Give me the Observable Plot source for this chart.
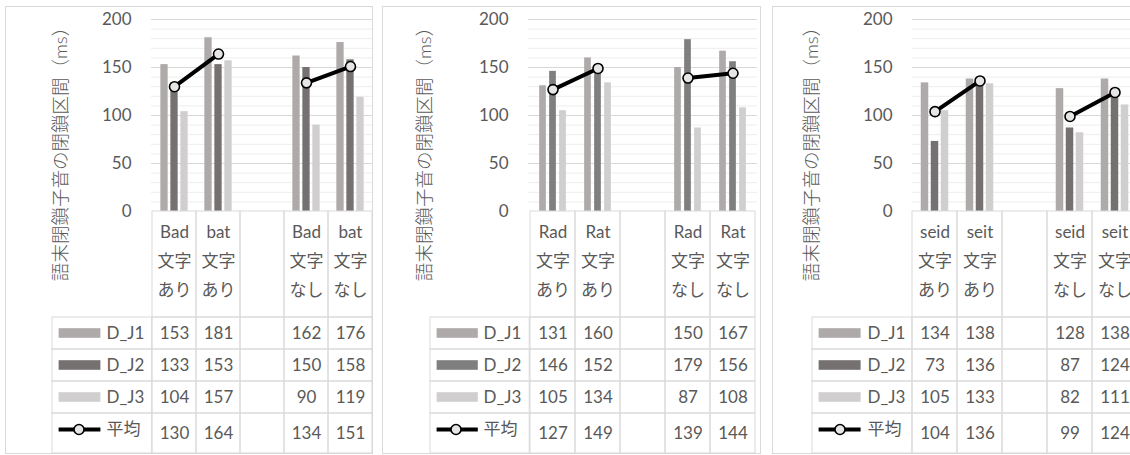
<!DOCTYPE html>
<html><head><meta charset="utf-8">
<script src="https://cdn.jsdelivr.net/npm/d3@7"></script>
<script src="https://cdn.jsdelivr.net/npm/@observablehq/plot@0.6"></script>
<style>
html,body{margin:0;padding:0;background:#fff;width:1130px;height:455px;overflow:hidden;}
.panel{position:absolute;box-sizing:border-box;border:1px solid #d9d9d9;background:#fff;overflow:visible;}
.panel svg{position:absolute;left:0;}
</style></head><body>
<script>
// ---------- data ----------
const seriesNames = ["D_J1", "D_J2", "D_J3", "平均"];
const yTitle = "語末閉鎖子音の閉鎖区間（ms）";
const yTicks = [0, 50, 100, 150, 200];
const conditions = ["文字\nあり", "文字\nあり", "", "文字\nなし", "文字\nなし"];

const words1 = ["Bad", "bat", "", "Bad", "bat"];
const dj1_1 = [153, 181, null, 162, 176];
const dj2_1 = [133, 153, null, 150, 158];
const dj3_1 = [104, 157, null, 90, 119];
const mean_1 = [130, 164, null, 134, 151];

const words2 = ["Rad", "Rat", "", "Rad", "Rat"];
const dj1_2 = [131, 160, null, 150, 167];
const dj2_2 = [146, 152, null, 179, 156];
const dj3_2 = [105, 134, null, 87, 108];
const mean_2 = [127, 149, null, 139, 144];

const words3 = ["seid", "seit", "", "seid", "seit"];
const dj1_3 = [134, 138, null, 128, 138];
const dj2_3 = [73, 136, null, 87, 124];
const dj3_3 = [105, 133, null, 82, 111];
const mean_3 = [104, 136, null, 99, 124];

// ---------- layout / style ----------
const FONT = "Lato, 'Noto Sans CJK JP', sans-serif";
const TEXT = "#595959", GRID = "#d9d9d9", MINOR = "#ededed";
const layouts = [
  {left: 5,   width: 368, xL: 145, xR: 366, titleDx: -90,  palette: ["#aeaaaa", "#767171", "#d0cece"]},
  {left: 382, width: 379, xL: 145, xR: 374, titleDx: -103, palette: ["#aeaaaa", "#7f7f7f", "#d0cece"]},
  {left: 772, width: 368, xL: 139, xR: 364, titleDx: -100, palette: ["#aeaaaa", "#767171", "#d0cece"]}
];
const panelWords = [words1, words2, words3];
const panelSeries = [
  [dj1_1, dj2_1, dj3_1, mean_1],
  [dj1_2, dj2_2, dj3_2, mean_2],
  [dj1_3, dj2_3, dj3_3, mean_3]
];

const PANEL_TOP = 6, PANEL_H = 448;
const CHART_H = 206;             // inner px; y(200) at 12, y(0) at 204
const TABLE_TOP = 204, TABLE_H = 242;
const ROW_PX = 32;
const HEADER_U = 106 / ROW_PX, TOTAL_U = TABLE_H / ROW_PX;
const rowTop = k => HEADER_U + k;
const rowBottom = k => (k < 3 ? rowTop(k) + 1 : TOTAL_U);
const LEG_W = 100, BAR_W = 7.5, BAR_STEP = 10;
const minorTicks = d3.range(10, 200, 10).filter(v => v % 50 !== 0);

layouts.forEach((L, p) => {
  const words = panelWords[p];
  const series = panelSeries[p];
  const idx = words.map((_, i) => i);
  const innerW = L.width - 2;
  const B = (L.xR - L.xL) / idx.length;
  const div = document.createElement("div");
  div.className = "panel";
  Object.assign(div.style, {left: L.left + "px", top: PANEL_TOP + "px", width: L.width + "px", height: PANEL_H + "px"});
  document.body.appendChild(div);

  const xScale = {type: "band", domain: idx, padding: 0, axis: null};
  const style = {background: "transparent", overflow: "visible", fontFamily: FONT, fontSize: "17px", color: TEXT};

  // ---- chart ----
  const inset = (B - BAR_W) / 2;
  const bars = series.slice(0, 3).map((arr, k) =>
    Plot.barY(idx.filter(i => arr[i] != null), {
      x: i => i, y: i => arr[i], fill: L.palette[k],
      insetLeft: inset, insetRight: inset, dx: (k - 1) * BAR_STEP
    }));
  const meanArr = series[3];
  const lineData = idx.map(i => ({i, v: meanArr[i]}));
  const chart = Plot.plot({
    width: innerW, height: CHART_H,
    marginLeft: L.xL, marginRight: innerW - L.xR, marginTop: 12, marginBottom: 2,
    x: xScale,
    y: {domain: [0, 200], ticks: yTicks, tickSize: 0, tickPadding: 20, label: null},
    style,
    marks: [
      Plot.ruleY(minorTicks, {stroke: MINOR}),
      Plot.ruleY(yTicks.filter(v => v > 0), {stroke: GRID}),
      ...bars,
      Plot.line(lineData, {x: "i", y: "v", stroke: "#000", strokeWidth: 4}),
      Plot.dot(lineData.filter(d => d.v != null), {x: "i", y: "v", r: 5, fill: "#e7e6e6", stroke: "#000", strokeWidth: 1.6}),
      Plot.text([yTitle], {frameAnchor: "left", textAnchor: "middle", rotate: -90, dx: L.titleDx, dy: 34, fontSize: 18.5, fontWeight: 300, fill: TEXT})
    ]
  });
  chart.style.top = "0px";
  div.appendChild(chart);

  // ---- data table ----
  const cells = [];
  const values = [];
  series.forEach((arr, k) => idx.forEach(i => {
    cells.push({i, k});
    if (arr[i] != null) values.push({i, k, v: arr[i]});
  }));
  const legInL = -(LEG_W - 6.6), legInR = B + (LEG_W - 48.6);
  const swatches = [0, 1, 2].map(k =>
    Plot.barY([k], {x: () => 0, y1: d => rowTop(d) + 0.5 - 0.15, y2: d => rowTop(d) + 0.5 + 0.15,
      fill: L.palette[k], insetLeft: legInL, insetRight: legInR}));
  const table = Plot.plot({
    width: innerW, height: TABLE_H,
    marginLeft: L.xL, marginRight: innerW - L.xR, marginTop: 0, marginBottom: 0,
    x: xScale,
    y: {domain: [0, TOTAL_U], range: [0, TABLE_H], axis: null},
    style,
    marks: [
      Plot.barY(idx, {x: d => d, y1: 0, y2: HEADER_U, fill: "none", stroke: GRID}),
      Plot.barY(cells, {x: "i", y1: d => rowTop(d.k), y2: d => rowBottom(d.k), fill: "none", stroke: GRID}),
      Plot.barY([0, 1, 2, 3], {x: () => 0, y1: rowTop, y2: rowBottom, fill: "none", stroke: GRID, insetLeft: -LEG_W, insetRight: B}),
      Plot.text(idx.filter(i => words[i]), {x: d => d, y: HEADER_U / 2, dy: -7,
        text: i => words[i] + "\n" + conditions[i], lineHeight: 1.7, fill: TEXT}),
      Plot.text(values, {x: "i", y: d => (rowTop(d.k) + rowBottom(d.k)) / 2, text: d => String(d.v), fill: TEXT}),
      ...swatches,
      Plot.tickY([3], {x: () => 0, y: d => rowTop(d) + 0.5, stroke: "#000", strokeWidth: 4, insetLeft: legInL, insetRight: legInR}),
      Plot.dot([3], {frameAnchor: "left", y: d => rowTop(d) + 0.5, dx: -(LEG_W - 27.5), r: 5, fill: "#e7e6e6", stroke: "#000", strokeWidth: 1.6}),
      Plot.text(seriesNames, {frameAnchor: "left", y: (d, k) => rowTop(k) + 0.5, dx: -45, textAnchor: "start", text: d => d, fill: TEXT})
    ]
  });
  table.style.top = TABLE_TOP + "px";
  div.appendChild(table);
});
</script>
</body></html>
